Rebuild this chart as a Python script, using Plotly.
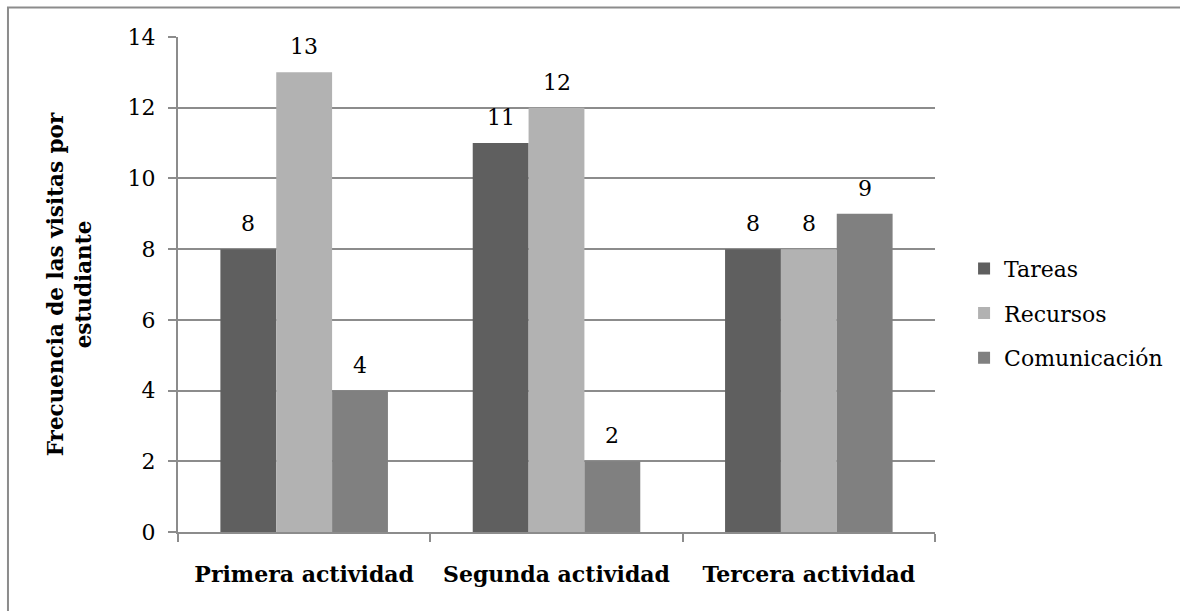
import plotly.graph_objects as go

# Visit frequency per student, by activity and resource type
actividades = ["Primera actividad", "Segunda actividad", "Tercera actividad"]
tareas = [8, 11, 8]
recursos = [13, 12, 8]
comunicacion = [4, 2, 9]

series = [
    ("Tareas", tareas, "#5f5f5f"),
    ("Recursos", recursos, "#b2b2b2"),
    ("Comunicación", comunicacion, "#808080"),
]

FONT = "DejaVu Serif"
GRID = "#8c8c8c"

# group geometry (pixels) used to centre each value label over its bar
L, R, T, B = 178, 243, 37, 79
PLOT_W = 1180 - L - R
BARGAP = 0.336
bar_px = PLOT_W / len(actividades) * (1 - BARGAP) / len(series)

fig = go.Figure()
annotations = []
for i, (name, vals, color) in enumerate(series):
    fig.add_trace(go.Bar(
        name=name,
        x=actividades,
        y=vals,
        marker=dict(color=color, line=dict(width=0)),
        legendgroup=name,
    ))
    offset = (i - (len(series) - 1) / 2) * bar_px
    for cat, v in zip(actividades, vals):
        annotations.append(dict(
            x=cat, y=v, xref="x", yref="y",
            text=str(v), showarrow=False,
            xanchor="center", yanchor="bottom",
            xshift=offset, yshift=11,
            font=dict(family=FONT, size=22, color="#000000"),
        ))

fig.update_layout(
    width=1180,
    height=611,
    margin=dict(l=L, r=R, t=T, b=B),
    paper_bgcolor="white",
    plot_bgcolor="white",
    barmode="group",
    bargap=BARGAP,
    bargroupgap=0,
    font=dict(family=FONT, size=22, color="#000000"),
    showlegend=True,
    legend=dict(
        x=1.0384, xanchor="left",
        y=0.442, yanchor="middle",
        font=dict(family=FONT, size=22, color="#000000"),
        tracegroupgap=13,
        bgcolor="rgba(0,0,0,0)",
    ),
    xaxis=dict(
        showline=True, linecolor=GRID, linewidth=2,
        ticks="outside", tickson="boundaries", ticklen=8,
        tickcolor=GRID, tickwidth=2,
        ticklabelstandoff=22,
        tickfont=dict(family=FONT, size=22, color="#000000", weight="bold"),
        showgrid=False,
    ),
    yaxis=dict(
        range=[0, 14],
        dtick=2,
        showline=True, linecolor=GRID, linewidth=2,
        ticks="outside", ticklen=8, tickcolor=GRID, tickwidth=2,
        ticklabelstandoff=8,
        showgrid=True, gridcolor=GRID, gridwidth=2,
        zeroline=False,
        tickfont=dict(family=FONT, size=22, color="#000000"),
        title=dict(
            text="Frecuencia de las visitas por<br>estudiante",
            font=dict(family=FONT, size=21.5, color="#000000", weight="bold"),
            standoff=30,
        ),
    ),
    annotations=annotations,
    shapes=[
        dict(
            type="rect", xref="paper", yref="paper",
            x0=-0.2246, x1=2.0, y0=-1.0, y1=1.0596,
            line=dict(color=GRID, width=2),
            fillcolor="rgba(0,0,0,0)",
            layer="below",
        )
    ],
)

fig.write_html("out.html")
